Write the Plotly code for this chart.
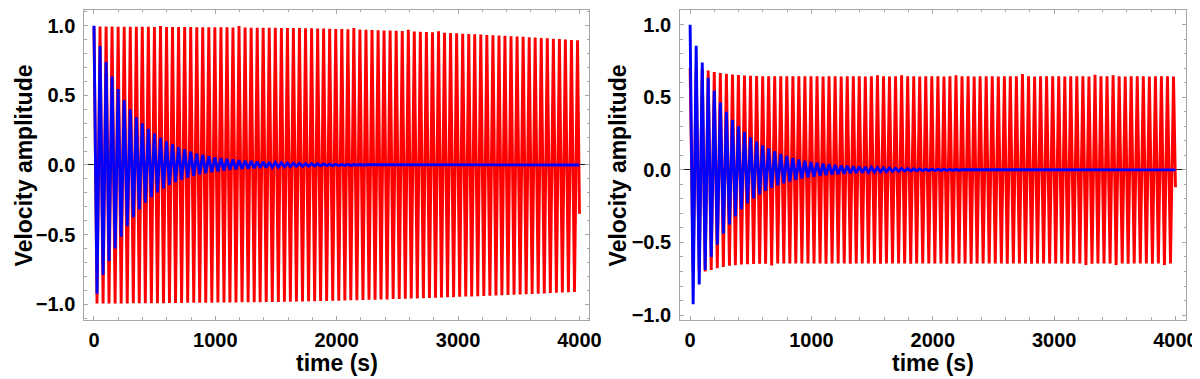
import plotly.graph_objects as go

# turning points of the oscillation (s)
peak_t = [0, 50, 100, 149, 199, 249, 299, 349, 398, 448,
          498, 548, 598, 647, 697, 747, 797, 847, 896, 946,
          996, 1046, 1096, 1145, 1195, 1245, 1295, 1345, 1394, 1444,
          1494, 1544, 1594, 1643, 1693, 1743, 1793, 1843, 1892, 1942,
          1992, 2042, 2092, 2141, 2191, 2241, 2291, 2341, 2390, 2440,
          2490, 2540, 2590, 2639, 2689, 2739, 2789, 2839, 2888, 2938,
          2988, 3038, 3088, 3137, 3187, 3237, 3287, 3337, 3386, 3436,
          3486, 3536, 3586, 3635, 3685, 3735, 3785, 3835, 3884, 3934,
          3984]
trough_t = [25, 75, 124, 174, 224, 274, 324, 373, 423, 473,
            523, 573, 622, 672, 722, 772, 822, 871, 921, 971,
            1021, 1071, 1120, 1170, 1220, 1270, 1320, 1369, 1419, 1469,
            1519, 1569, 1618, 1668, 1718, 1768, 1818, 1867, 1917, 1967,
            2017, 2067, 2116, 2166, 2216, 2266, 2316, 2365, 2415, 2465,
            2515, 2565, 2614, 2664, 2714, 2764, 2814, 2863, 2913, 2963,
            3013, 3063, 3112, 3162, 3212, 3262, 3312, 3361, 3411, 3461,
            3511, 3561, 3610, 3660, 3710, 3760, 3810, 3859, 3909, 3959]
end_t = 4000

# left panel, red
red_left_peak = [0.995, 0.995, 0.994, 0.994, 0.993, 0.993, 0.993, 0.992, 0.992, 0.992,
                 0.991, 0.998, 0.991, 0.990, 0.990, 0.990, 0.990, 0.989, 0.989, 0.989,
                 0.988, 0.988, 0.988, 0.987, 0.997, 0.987, 0.986, 0.986, 0.985, 0.985,
                 0.985, 0.984, 0.984, 0.983, 0.983, 0.982, 0.981, 0.980, 0.979, 0.978,
                 0.977, 0.976, 0.975, 0.983, 0.972, 0.971, 0.969, 0.968, 0.966, 0.965,
                 0.963, 0.962, 0.970, 0.958, 0.957, 0.955, 0.953, 0.961, 0.949, 0.947,
                 0.945, 0.943, 0.941, 0.939, 0.937, 0.934, 0.932, 0.930, 0.927, 0.925,
                 0.922, 0.920, 0.917, 0.915, 0.912, 0.909, 0.906, 0.904, 0.901, 0.898,
                 0.895]
red_left_trough = [-0.995, -0.995, -0.995, -0.994, -0.994, -0.994, -0.993, -0.993, -0.993, -0.992,
                   -0.992, -0.992, -0.991, -0.991, -0.991, -0.990, -0.990, -0.990, -0.989, -0.989,
                   -0.988, -0.988, -0.987, -0.987, -0.986, -0.986, -0.985, -0.985, -0.984, -0.984,
                   -0.983, -0.982, -0.982, -0.981, -0.980, -0.979, -0.978, -0.977, -0.976, -0.975,
                   -0.974, -0.973, -0.972, -0.971, -0.970, -0.968, -0.967, -0.966, -0.965, -0.963,
                   -0.962, -0.961, -0.959, -0.958, -0.956, -0.955, -0.953, -0.952, -0.950, -0.949,
                   -0.947, -0.945, -0.944, -0.942, -0.940, -0.939, -0.937, -0.935, -0.933, -0.931,
                   -0.930, -0.928, -0.926, -0.924, -0.922, -0.920, -0.918, -0.916, -0.914, -0.912]
red_left_end = -0.35

# right panel, red
red_right_peak = [0.700, 0.700, 0.695, 0.685, 0.675, 0.668, 0.662, 0.657, 0.653, 0.650,
                  0.648, 0.647, 0.646, 0.646, 0.645, 0.645, 0.645, 0.645, 0.645, 0.645,
                  0.645, 0.645, 0.644, 0.645, 0.645, 0.644, 0.645, 0.645, 0.645, 0.644,
                  0.645, 0.652, 0.645, 0.644, 0.645, 0.652, 0.645, 0.645, 0.644, 0.645,
                  0.645, 0.645, 0.644, 0.645, 0.652, 0.645, 0.645, 0.644, 0.645, 0.645,
                  0.645, 0.644, 0.645, 0.645, 0.645, 0.660, 0.645, 0.644, 0.645, 0.645,
                  0.645, 0.645, 0.644, 0.645, 0.645, 0.645, 0.644, 0.655, 0.645, 0.645,
                  0.652, 0.645, 0.644, 0.645, 0.645, 0.645, 0.644, 0.645, 0.645, 0.645,
                  0.644]
red_right_trough = [-0.700, -0.700, -0.700, -0.690, -0.678, -0.668, -0.661, -0.656, -0.652, -0.650,
                    -0.648, -0.647, -0.646, -0.658, -0.645, -0.645, -0.645, -0.645, -0.645, -0.645,
                    -0.645, -0.645, -0.646, -0.645, -0.645, -0.645, -0.646, -0.645, -0.645, -0.645,
                    -0.645, -0.646, -0.645, -0.645, -0.645, -0.645, -0.646, -0.645, -0.645, -0.645,
                    -0.645, -0.645, -0.646, -0.645, -0.645, -0.645, -0.646, -0.645, -0.645, -0.645,
                    -0.645, -0.645, -0.646, -0.645, -0.645, -0.645, -0.646, -0.645, -0.645, -0.645,
                    -0.645, -0.645, -0.646, -0.645, -0.645, -0.655, -0.646, -0.645, -0.645, -0.645,
                    -0.655, -0.645, -0.646, -0.645, -0.645, -0.645, -0.646, -0.645, -0.655, -0.645]
red_right_end = -0.12

# blue (same in both panels)
blue_peak = [1.0, 0.855, 0.74, 0.635, 0.545, 0.465, 0.40, 0.345, 0.30, 0.26,
             0.225, 0.195, 0.17, 0.148, 0.128, 0.111, 0.096, 0.083, 0.072, 0.063,
             0.055, 0.049, 0.044, 0.039, 0.035, 0.031, 0.028, 0.025, 0.022, 0.020,
             0.018, 0.016, 0.014, 0.013, 0.011, 0.010, 0.009, 0.008, 0.007, 0.006,
             0.005, 0.004, 0.004, 0.003, 0.003, 0.002]
blue_trough = [-0.925, -0.79, -0.69, -0.60, -0.515, -0.44, -0.375, -0.32, -0.27, -0.23,
               -0.197, -0.168, -0.144, -0.124, -0.107, -0.092, -0.080, -0.069, -0.060, -0.052,
               -0.046, -0.041, -0.036, -0.032, -0.029, -0.026, -0.023, -0.021, -0.019, -0.017,
               -0.015, -0.013, -0.012, -0.010, -0.009, -0.008, -0.007, -0.006, -0.005, -0.005,
               -0.004, -0.003, -0.003, -0.002, -0.002]
blue_end = 0.0


def zigzag(peaks, troughs, end_val):
    xs, ys = [], []
    for i, p in enumerate(peaks):
        xs.append(peak_t[i])
        ys.append(p)
        if i < len(troughs):
            xs.append(trough_t[i])
            ys.append(troughs[i])
    xs.append(end_t)
    ys.append(end_val)
    return xs, ys


RED = "#ff0000"
BLUE = "#0000ff"
FONT = "Liberation Sans"
LW = 2.9

fig = go.Figure()
panels = [
    ("x", "y", red_left_peak, red_left_trough, red_left_end),
    ("x2", "y2", red_right_peak, red_right_trough, red_right_end),
]
for xa, ya, rp, rt, re in panels:
    x, y = zigzag(rp, rt, re)
    fig.add_trace(go.Scatter(x=x, y=y, mode="lines", xaxis=xa, yaxis=ya,
                             line=dict(color=RED, width=LW, simplify=False),
                             hoverinfo="skip"))
    x, y = zigzag(blue_peak, blue_trough, blue_end)
    fig.add_trace(go.Scatter(x=x, y=y, mode="lines", xaxis=xa, yaxis=ya,
                             line=dict(color=BLUE, width=LW, simplify=False),
                             hoverinfo="skip"))

frame = dict(showline=True, linecolor="#a6a6a6", linewidth=1, mirror="allticks",
             ticks="inside", ticklen=4, tickcolor="#a6a6a6", tickwidth=1,
             showgrid=False, layer="above traces",
             tickfont=dict(family=FONT, size=20, color="black", weight="bold"))
xcommon = dict(frame, zeroline=False, tick0=0, dtick=1000, ticklabelstandoff=2,
               minor=dict(ticks="inside", ticklen=2.5, dtick=200, tickcolor="#a6a6a6", showgrid=False))
ycommon = dict(frame, zeroline=True, zerolinecolor="#1a1a1a", zerolinewidth=1,
               tick0=0, dtick=0.5, tickformat=".1f", ticklabelstandoff=4,
               minor=dict(ticks="inside", ticklen=2.5, dtick=0.1, tickcolor="#a6a6a6", showgrid=False))

fig.update_layout(
    width=1200, height=379,
    margin=dict(l=0, r=0, t=0, b=0),
    paper_bgcolor="white", plot_bgcolor="white",
    showlegend=False,
    xaxis=dict(xcommon, domain=[0.0642, 0.4892], range=[-80, 4080], anchor="y"),
    yaxis=dict(ycommon, domain=[0.1636, 0.9947], range=[-1.113, 1.113], anchor="x"),
    xaxis2=dict(xcommon, domain=[0.5658, 0.9917], range=[-82, 4088], anchor="y2"),
    yaxis2=dict(ycommon, domain=[0.1636, 0.9947], range=[-1.034, 1.102], anchor="x2"),
)

title_font = dict(family=FONT, size=23, color="black", weight="bold")
for xc in [0.2767, 0.7788]:
    fig.add_annotation(text="time (s)", x=xc, y=0.047, xref="paper", yref="paper",
                       xanchor="center", yanchor="middle", showarrow=False, font=title_font)
for xc in [0.0135, 0.5135]:
    fig.add_annotation(text="Velocity amplitude", x=xc, y=0.578, xref="paper", yref="paper",
                       xanchor="center", yanchor="middle", showarrow=False, textangle=-90,
                       font=title_font)

fig.write_html("out.html")
